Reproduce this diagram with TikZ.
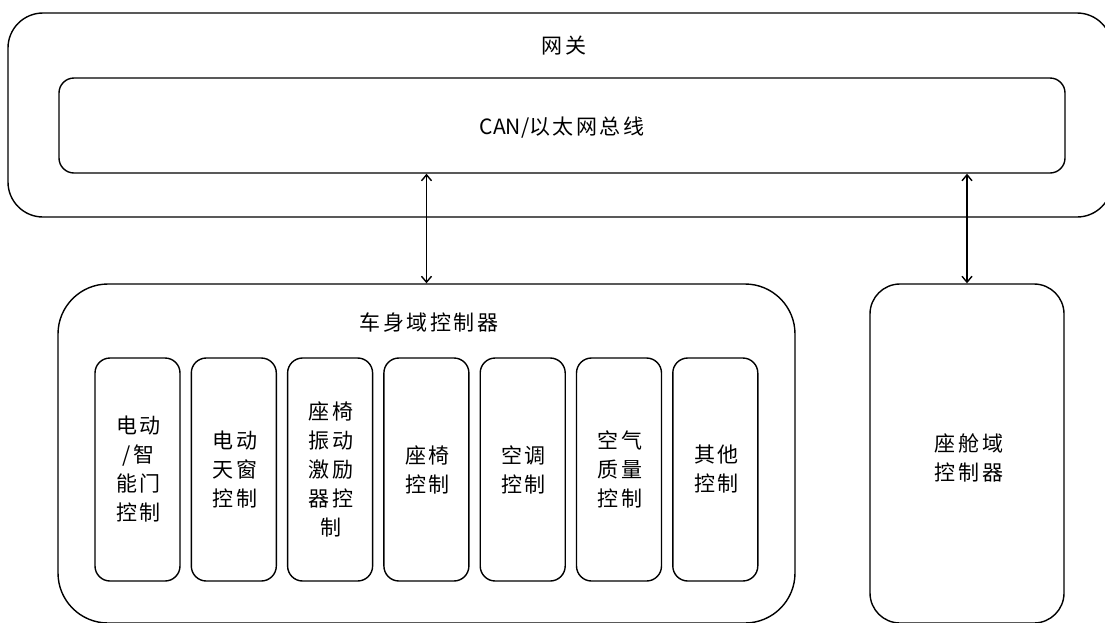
\documentclass[tikz,border=0pt]{standalone}
\usepackage{fontspec}
\newfontfamily\cjk[LetterSpace=12]{Noto Sans CJK SC}
\newfontfamily\cjkn{Noto Sans CJK SC}
\usetikzlibrary{arrows.meta}
\begin{document}
\begin{tikzpicture}[x=1pt,y=-1pt,
  box/.style={draw=black,line width=1.4pt,rounded corners=#1,inner sep=0pt},
  box/.default=15pt,
  txt/.style={font=\cjk\fontsize{21}{29}\selectfont,align=center},
  conn/.style={line width=1.4pt,{Straight Barb[length=6pt,width=10pt,line width=1.4pt]}-{Straight Barb[length=6pt,width=10pt,line width=1.4pt]}}
]
\useasboundingbox (0,0) rectangle (1105,622);
\clip (0,0) rectangle (1105,622);
\fill[white] (0,0) rectangle (1105,622);
% gateway
\node[box=35pt,minimum width=1104pt,minimum height=204pt] (gw) at (560,115) {};
\node[txt] (gwt) at (564,46) {网关};
\node[box=15pt,minimum width=1006pt,minimum height=95pt] (bus) at (562,125.5) {};
\node[txt] (bust) at (562,128) {{\cjkn CAN/}以太网总线};
% body controller
\node[box=50pt,minimum width=737pt,minimum height=339pt] (body) at (426.5,453.5) {};
\node[txt] (bodyt) at (429,323) {车身域控制器};
% cabin
\node[box=30pt,minimum width=194pt,minimum height=339pt] (cab) at (967,453.5) {};
\node[txt] (cabt) at (969,458) {座舱域\\控制器};
% inner boxes
\foreach \i/\t in {0/{电动\\/智\\能门\\控制},1/{电动\\天窗\\控制},2/{座椅\\振动\\激励\\器控\\制},3/{座椅\\控制},4/{空调\\控制},5/{空气\\质量\\控制},6/{其他\\控制}}{
  \node[box=15pt,minimum width=85pt,minimum height=223pt] (b\i) at ({137.5+96.3*\i},469.5) {};
  \node[txt] (bt\i) at ([xshift=1pt]b\i.center) {\t};
}
% connectors
\draw[conn] (body.north |- bus.south) -- (body.north);
\draw[conn] (cab.north |- bus.south) -- (cab.north);
\end{tikzpicture}
\end{document}
